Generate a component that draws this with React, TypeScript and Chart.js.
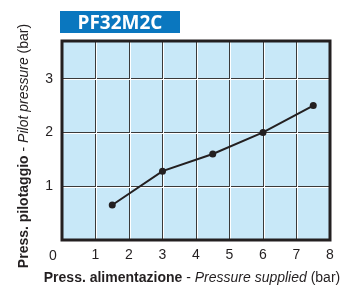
import React, { useEffect, useRef } from 'react';
import { Chart, registerables } from 'chart.js';

Chart.register(...registerables);

// ---- data ----
const chartTitle = 'PF32M2C';
const supplyPressure = [1.5, 3, 4.5, 6, 7.5];
const pilotPressure = [0.65, 1.28, 1.6, 2.0, 2.5];
const xTickValues = [0, 1, 2, 3, 4, 5, 6, 7, 8];
const yTickValues = [1, 2, 3];
const xMin = 0;
const xMax = 8;
const yMin = 0;
const yMax = 3.7;
const xTitleParts: [string, string][] = [
  ['Press. alimentazione', 'bold'],
  [' - ', 'normal'],
  ['Pressure supplied', 'italic'],
  [' (bar)', 'normal'],
];
const yTitleParts: [string, string][] = [
  ['Press. pilotaggio', 'bold'],
  [' - ', 'normal'],
  ['Pilot pressure', 'italic'],
  [' (bar)', 'normal'],
];

const INK = '#231f20';
const FILL = '#c8e8f8';
const BLUE = '#0a77bf';
const FONT = '"Liberation Sans", Arial, sans-serif';
const TITLE_SIZE = 14;

function drawParts(ctx: CanvasRenderingContext2D, parts: [string, string][], cx: number, cy: number, rot: number) {
  ctx.save();
  ctx.translate(cx, cy);
  ctx.rotate(rot);
  const fonts = parts.map(([, s]) => `${s === 'normal' ? '' : s} ${TITLE_SIZE}px ${FONT}`.trim());
  const widths = parts.map(([t], i) => {
    ctx.font = fonts[i];
    return ctx.measureText(t).width;
  });
  const total = widths.reduce((a, b) => a + b, 0);
  let x = -total / 2;
  ctx.fillStyle = INK;
  ctx.textBaseline = 'middle';
  ctx.textAlign = 'left';
  parts.forEach(([t], i) => {
    ctx.font = fonts[i];
    ctx.fillText(t, x, 0);
    x += widths[i];
  });
  ctx.restore();
}

const decorPlugin = {
  id: 'decor',
  beforeDraw(chart: any) {
    const { ctx, chartArea: a } = chart;
    ctx.save();
    ctx.fillStyle = FILL;
    ctx.fillRect(a.left, a.top, a.right - a.left, a.bottom - a.top);
    ctx.restore();
  },
  beforeDatasetsDraw(chart: any) {
    const { ctx, chartArea: a, scales } = chart;
    ctx.save();
    ctx.strokeStyle = '#ffffff';
    ctx.lineWidth = 1;
    xTickValues.forEach((v) => {
      if (v === xMin || v === xMax) return;
      const p = Math.round(scales.x.getPixelForValue(v) - 0.5) + 0.5 + 1;
      ctx.beginPath();
      ctx.moveTo(p, a.top);
      ctx.lineTo(p, a.bottom);
      ctx.stroke();
    });
    yTickValues.forEach((v) => {
      const p = Math.round(scales.y.getPixelForValue(v) - 0.5) + 0.5 + 1;
      ctx.beginPath();
      ctx.moveTo(a.left, p);
      ctx.lineTo(a.right, p);
      ctx.stroke();
    });
    ctx.strokeStyle = INK;
    ctx.lineWidth = 3;
    ctx.strokeRect(a.left, a.top, a.right - a.left, a.bottom - a.top);
    ctx.restore();
  },
  afterDraw(chart: any) {
    const { ctx, chartArea: a, scales } = chart;
    ctx.save();
    ctx.fillStyle = INK;
    ctx.font = `14px ${FONT}`;
    ctx.textAlign = 'center';
    ctx.textBaseline = 'middle';
    ctx.fillText(String(xMin), scales.x.getPixelForValue(xMin) - 9, a.bottom + 16);
    ctx.restore();
    drawParts(ctx, xTitleParts, (a.left + a.right) / 2 - 4, a.bottom + 38, 0);
    drawParts(ctx, yTitleParts, a.left - 38, 146, -Math.PI / 2);
  },
};

export default function App() {
  const ref = useRef<HTMLCanvasElement>(null);
  useEffect(() => {
    document.body.style.margin = '0';
    const chart = new Chart(ref.current!, {
      type: 'line',
      data: {
        datasets: [
          {
            data: supplyPressure.map((x, i) => ({ x, y: pilotPressure[i] })),
            borderColor: INK,
            borderWidth: 2,
            pointRadius: 3.5,
            pointBackgroundColor: INK,
            pointBorderColor: INK,
            pointBorderWidth: 0,
            tension: 0,
          },
        ],
      },
      options: {
        animation: false,
        responsive: false,
        layout: { padding: { top: 41, right: 27, left: 0, bottom: 0 } },
        plugins: { legend: { display: false }, tooltip: { enabled: false }, title: { display: false } },
        scales: {
          x: {
            type: 'linear',
            min: xMin,
            max: xMax,
            afterBuildTicks: (s: any) => {
              s.ticks = xTickValues.map((value) => ({ value }));
            },
            afterFit: (s: any) => {
              s.height = 46;
            },
            border: { display: false },
            grid: {
              drawTicks: false,
              lineWidth: 1,
              color: (c: any) => (c.tick && (c.tick.value === xMin || c.tick.value === xMax) ? 'rgba(0,0,0,0)' : '#3a3a3a'),
            },
            ticks: {
              padding: 7,
              color: INK,
              font: { family: FONT, size: 14 },
              maxRotation: 0,
              callback: (v: any) => (v === xMin ? '' : String(v)),
            },
          },
          y: {
            type: 'linear',
            min: yMin,
            max: yMax,
            afterBuildTicks: (s: any) => {
              s.ticks = yTickValues.map((value) => ({ value }));
            },
            afterFit: (s: any) => {
              s.width = 62;
            },
            border: { display: false },
            grid: { drawTicks: false, lineWidth: 1, color: '#3a3a3a' },
            ticks: {
              padding: 9,
              color: INK,
              font: { family: FONT, size: 14 },
              callback: (v: any) => String(v),
            },
          },
        },
      },
      plugins: [decorPlugin],
    } as any);
    return () => chart.destroy();
  }, []);

  return (
    <div style={{ position: 'fixed', left: 0, top: 0, width: 357, height: 286 }}>
      <canvas ref={ref} width={357} height={286} style={{ width: 357, height: 286, display: 'block' }} />
      <div
        style={{
          position: 'absolute',
          left: 60,
          top: 11,
          width: 120,
          height: 22,
          background: BLUE,
          color: '#ffffff',
          fontFamily: '"Open Sans", sans-serif',
          fontWeight: 700,
          fontSize: 19,
          lineHeight: '22px',
          textAlign: 'center',
        }}
      >
        {chartTitle}
      </div>
    </div>
  );
}
